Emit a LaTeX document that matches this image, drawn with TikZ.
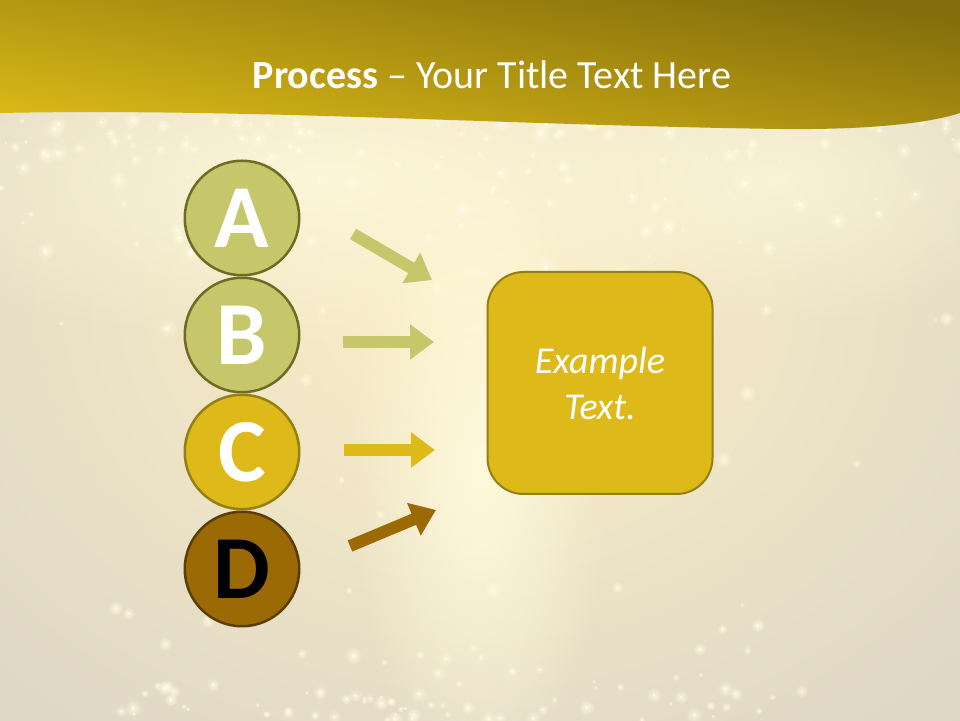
\documentclass[tikz,border=0pt]{standalone}
\usepackage{fontspec}
\setmainfont{Carlito}
\usetikzlibrary{arrows.meta,positioning,fadings}

\definecolor{bgbase}{HTML}{DDD4C6}
\definecolor{bgglow}{HTML}{FAEFC6}
\definecolor{sparkcol}{HTML}{FFF9DC}
\definecolor{bandlight}{HTML}{D8B717}
\definecolor{banddark}{HTML}{846E0C}
\definecolor{olivefill}{HTML}{C6C76B}
\definecolor{olivedraw}{HTML}{6E6B22}
\definecolor{goldfill}{HTML}{DDB919}
\definecolor{golddraw}{HTML}{948012}
\definecolor{brownfill}{HTML}{9C6A05}
\definecolor{browndraw}{HTML}{5A3D03}

\tikzfading[name=softglow, inner color=transparent!0, outer color=transparent!100]

\tikzset{
  letter/.style={circle, minimum size=114.5pt, inner sep=0pt, line width=2.5pt,
    font=\fontsize{90}{90}\selectfont\bfseries},
  flow/.style={line width=12pt, -{Triangle[length=24pt,width=34pt]}},
  spark/.style={sparkcol, path fading=softglow},
}

\begin{document}
\begin{tikzpicture}[x=1pt,y=1pt]
  \useasboundingbox (0,0) rectangle (960,720);

  % Background
  \begin{scope}
    \clip (0,0) rectangle (960,720);
    \fill[bgbase] (0,0) rectangle (960,720);
    \shade[inner color=bgglow, outer color=bgbase] (470,420) ellipse (760 and 600);
    \fill[spark, opacity=1] (480,250) ellipse (130 and 320);
    \fill[spark, opacity=0.8] (320,540) ellipse (480 and 170);
    \fill[spark, opacity=0.7] (780,540) ellipse (280 and 150);
    \pgfmathsetseed{11}
    % upper sparkle band
    \foreach \i in {1,...,130}{
      \pgfmathsetmacro{\px}{rnd*960}
      \pgfmathsetmacro{\py}{600-rnd*rnd*230}
      \pgfmathsetmacro{\pr}{2+rnd*9}
      \pgfmathsetmacro{\po}{0.7+rnd*0.3}
      \fill[spark, opacity=\po] (\px,\py) circle (\pr);
      \fill[white, opacity=0.7] (\px,\py) circle (0.2*\pr);
    }
    % lower sparkle band
    \foreach \i in {1,...,80}{
      \pgfmathsetmacro{\px}{120+rnd*660}
      \pgfmathsetmacro{\py}{rnd*rnd*130}
      \pgfmathsetmacro{\pr}{2+rnd*7}
      \pgfmathsetmacro{\po}{0.7+rnd*0.3}
      \fill[spark, opacity=\po] (\px,\py) circle (\pr);
      \fill[white, opacity=0.6] (\px,\py) circle (0.2*\pr);
    }
    % scattered
    \foreach \i in {1,...,25}{
      \pgfmathsetmacro{\px}{rnd*960}
      \pgfmathsetmacro{\py}{rnd*600}
      \pgfmathsetmacro{\pr}{3+rnd*8}
      \fill[spark, opacity=0.9] (\px,\py) circle (\pr);
    }
  \end{scope}

  % Title band
  \shade[top color=banddark, bottom color=bandlight, shading angle=-10]
    (0,720) -- (960,720) -- (960,607)
    .. controls (930,597) and (870,590) .. (780,591)
    .. controls (500,595) and (250,612) .. (0,607) -- cycle;
  \node[text=white, font=\fontsize{40}{40}\selectfont] (title) at (492,645)
    {\textbf{Process} -- Your Title Text Here};

  % Define nodes
  \node[letter, fill=olivefill, draw=olivedraw, text=white] (A) at (242,502) {A};
  \node[letter, fill=olivefill, draw=olivedraw, text=white, below=0pt of A] (B) {B};
  \node[letter, fill=goldfill, draw=golddraw, text=white, below=0pt of B] (C) {C};
  \node[letter, fill=brownfill, draw=browndraw, text=black, below=0pt of C] (D) {D};

  \node[rounded corners=36pt, minimum width=225pt, minimum height=222pt,
    fill=goldfill, draw=golddraw, line width=2pt, text=white, align=center,
    font=\fontsize{38}{46}\selectfont\itshape] (box) at (600,337) {Example\\Text.};

  % Arrow ends
  \coordinate (a1) at (353,486); \coordinate (a2) at (432,440);
  \coordinate (b1) at (343,378); \coordinate (b2) at (434,378);
  \coordinate (c1) at (344,270); \coordinate (c2) at (435,270);
  \coordinate (d1) at (350,174); \coordinate (d2) at (436,210);

  % Connect the nodes
  \draw[flow, olivefill] (a1) -- (a2);
  \draw[flow, olivefill] (b1) -- (b2);
  \draw[flow, goldfill] (c1) -- (c2);
  \draw[flow, brownfill] (d1) -- (d2);

\end{tikzpicture}
\end{document}
